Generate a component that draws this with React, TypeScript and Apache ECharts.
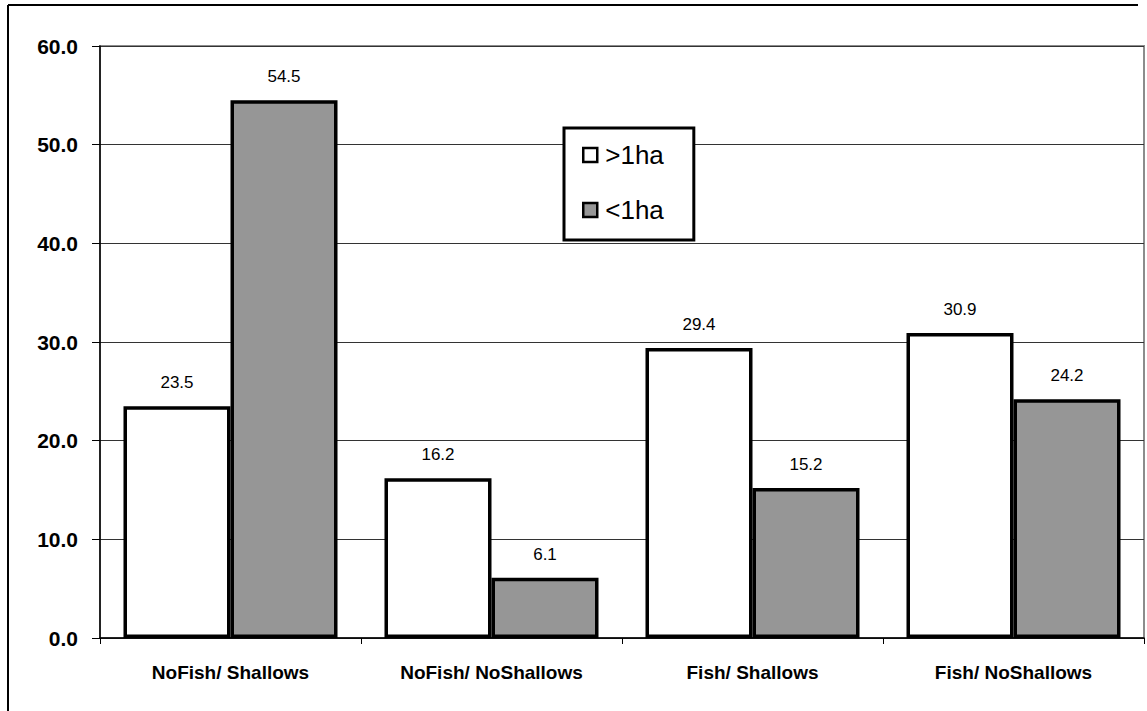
import React, { useEffect, useRef } from "react";
import * as echarts from "echarts";

const categories = ["NoFish/ Shallows", "NoFish/ NoShallows", "Fish/ Shallows", "Fish/ NoShallows"];
const largeLakes = [23.5, 16.2, 29.4, 30.9];
const smallLakes = [54.5, 6.1, 15.2, 24.2];
const seriesNames = [">1ha", "<1ha"];

const FONT = "Arial, 'Liberation Sans', sans-serif";

export default function App() {
  const ref = useRef<HTMLDivElement>(null);

  useEffect(() => {
    document.body.style.margin = "0";
    const chart = echarts.init(ref.current!, null, { renderer: "svg" });
    const labelStyle = {
      show: true,
      position: "top" as const,
      distance: 15,
      color: "#000",
      fontFamily: FONT,
      fontSize: 17,
      formatter: (p: any) => Number(p.value).toFixed(1),
    };
    chart.setOption({
      animation: false,
      backgroundColor: "#fff",
      grid: { left: 100, right: 3, top: 46, bottom: 73, show: true, borderColor: "#8c8c8c", borderWidth: 2 },
      legend: {
        orient: "vertical",
        left: 564,
        top: 128,
        padding: [14, 30, 17, 18],
        itemGap: 29,
        itemWidth: 14,
        itemHeight: 14,
        borderColor: "#000",
        borderWidth: 3,
        backgroundColor: "#fff",
        icon: "rect",
        itemStyle: { borderColor: "#000", borderWidth: 2.5 },
        textStyle: { fontFamily: FONT, fontSize: 26, color: "#000", padding: [0, 0, 0, 3] },
        data: seriesNames,
      },
      xAxis: {
        type: "category",
        data: categories,
        axisLine: { lineStyle: { color: "#000", width: 1.5 } },
        axisTick: { show: true, length: 6, lineStyle: { color: "#000" } },
        axisLabel: {
          color: "#000",
          fontFamily: FONT,
          fontWeight: "bold",
          fontSize: 19,
          margin: 25,
        },
      },
      yAxis: {
        type: "value",
        min: 0,
        max: 60,
        interval: 10,
        axisLine: { show: true, lineStyle: { color: "#000", width: 1.5 } },
        axisTick: { show: true, length: 8, lineStyle: { color: "#000" } },
        splitLine: { lineStyle: { color: "#333", width: 1 } },
        axisLabel: {
          color: "#000",
          fontFamily: FONT,
          fontWeight: "bold",
          fontSize: 21,
          margin: 22,
          formatter: (v: number) => v.toFixed(1),
        },
      },
      series: [
        {
          name: seriesNames[0],
          type: "bar",
          data: largeLakes,
          barGap: "0%",
          barCategoryGap: "18%",
          itemStyle: { color: "#ffffff", borderColor: "#000", borderWidth: 3.5 },
          label: labelStyle,
        },
        {
          name: seriesNames[1],
          type: "bar",
          data: smallLakes,
          barGap: "0%",
          barCategoryGap: "18%",
          itemStyle: { color: "#969696", borderColor: "#000", borderWidth: 3.5 },
          label: labelStyle,
        },
      ],
      graphic: [
        { type: "line", shape: { x1: 8, y1: 5, x2: 1138, y2: 5 }, style: { stroke: "#000", lineWidth: 2 } },
        { type: "line", shape: { x1: 8, y1: 5, x2: 8, y2: 711 }, style: { stroke: "#000", lineWidth: 2 } },
      ],
    });
    return () => chart.dispose();
  }, []);

  return <div ref={ref} style={{ width: 1147, height: 711 }} />;
}
